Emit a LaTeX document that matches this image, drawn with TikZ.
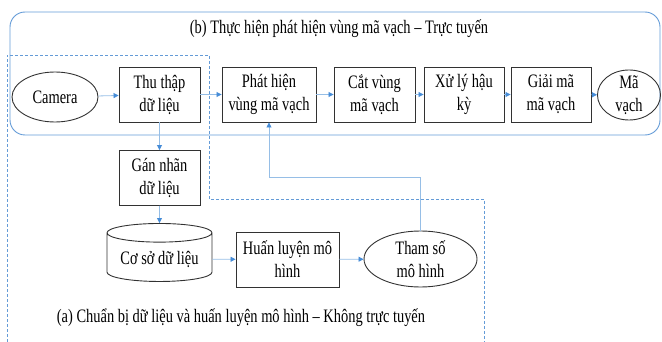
\documentclass[tikz,border=0pt]{standalone}
\usepackage{fontspec}
\setmainfont{Liberation Serif}[FakeStretch=0.76]
\usetikzlibrary{shapes.geometric,arrows.meta}
\definecolor{onblue}{RGB}{100,155,215}
\definecolor{linkblue}{RGB}{150,190,230}
\definecolor{tipblue}{RGB}{70,140,215}
\definecolor{boxgray}{RGB}{50,50,50}

\begin{document}
\begin{tikzpicture}[x=1pt,y=-1pt,
        every node/.style={font=\fontsize{19}{23}\selectfont},
        box/.style={draw=boxgray,line width=0.9pt,align=center,minimum height=55pt},
        oval/.style={ellipse,draw=boxgray,line width=0.9pt,inner sep=0pt},
        link/.style={draw=linkblue,line width=0.8pt,-{Triangle[length=5pt,width=5pt,color=tipblue]}},
        offline/.style={draw=onblue,line width=0.8pt,dashed,dash pattern=on 3pt off 2pt}
    ]
    \useasboundingbox (0,0) rectangle (662,342);
    % vung truc tuyen
    \draw[onblue,line width=0.9pt,rounded corners=15pt] (10,12) rectangle (660,135);
    \node (online) at (339,29) {(b) Thực hiện phát hiện vùng mã vạch – Trực tuyến};
    % vung khong truc tuyen
    \draw[offline] (7,342) -- (7,55) -- (209,55) -- (209,199) -- (484,199) -- (484,342);
    \node (offtext) at (241,318) {(a) Chuẩn bị dữ liệu và huấn luyện mô hình – Không trực tuyến};

    \node[oval,minimum width=86pt,minimum height=50pt] (cam) at (55,97) {Camera};
    \node[box,minimum width=81pt] (collect) at (159.5,94.5) {Thu thập\\dữ liệu};
    \node[box,minimum width=94pt] (detect) at (269,94.5) {Phát hiện\\vùng mã vạch};
    \node[box,minimum width=81pt] (crop) at (374.5,94.5) {Cắt vùng\\mã vạch};
    \node[box,minimum width=80pt] (post) at (464,94.5) {Xử lý hậu\\kỳ};
    \node[box,minimum width=80pt] (decode) at (551,94.5) {Giải mã\\mã vạch};
    \node[oval,minimum width=63pt,minimum height=50pt,
        label={[align=center]center:Mã\\vạch}] (code) at (629,95) {};

    \node[box,minimum width=81pt] (tag) at (159.5,178) {Gán nhãn\\dữ liệu};
    \node[cylinder,shape border rotate=90,draw=boxgray,line width=0.9pt,aspect=0.22,
        minimum width=105pt,minimum height=58pt] (db) at (159.5,259) {Cơ sở dữ liệu};
    \node[box,minimum width=103pt] (train) at (287.5,259.5) {Huấn luyện mô\\hình};
    \node[oval,minimum width=113pt,minimum height=56pt,
        label={[align=center]center:Tham số\\mô hình}] (param) at (420.5,259) {};
    \coordinate (turn) at (420.5,177);

    \draw[link] (cam) -- (collect);
    \draw[link] (collect) -- (detect);
    \draw[link] (detect) -- (crop);
    \draw[link] (crop) -- (post);
    \draw[link] (post) -- (decode);
    \draw[link] (decode) -- (code);
    \draw[link] (collect) -- (tag);
    \draw[link] (tag) -- (db);
    \draw[link] (db) -- (train);
    \draw[link] (train) -- (param);
    \draw[link] (param.north) -- (turn) -| (detect.south);
\end{tikzpicture}
\end{document}
